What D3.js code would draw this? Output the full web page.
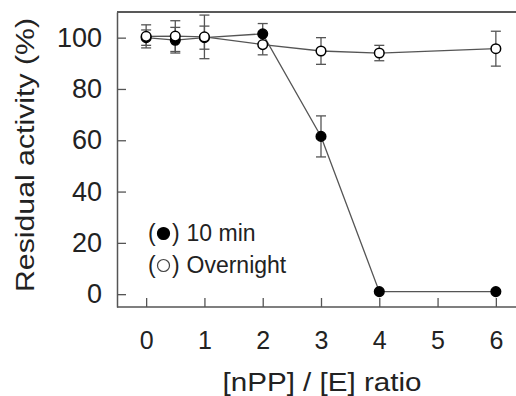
<!DOCTYPE html>
<html>
<head>
<meta charset="utf-8">
<script src="https://cdn.jsdelivr.net/npm/d3@7"></script>
<style>
  body { margin: 0; background: #fff; }
  svg { display: block; font-family: "Liberation Sans", Arial, sans-serif; }
</style>
</head>
<body>
<div id="chart"></div>
<script>
// data
const ratios = [0, 0.5, 1, 2, 3, 4, 6];
const xTicks = [0, 1, 2, 3, 4, 5, 6];
const yTicks = [0, 20, 40, 60, 80, 100];
const tenMin = [100, 99, 100, 101.5, 61.5, 1, 1];
const tenMinErr = [3, 5, 4.5, 4, 8, 0, 0];
const overnight = [100.5, 100.6, 100.3, 97.3, 94.8, 94, 95.7];
const overnightErr = [4.5, 6, 8.5, 4, 5.2, 3, 6.8];

const width = 516, height = 396;
const svg = d3.select("#chart")
    .append("svg")
    .attr("width", width)
    .attr("height", height);

const x = d3.scaleLinear().domain([-0.5, 6.5]).range([117, 525]);
const y = d3.scaleLinear().domain([-5, 110]).range([307, 12]);

const grey = "#555";
const ink = "#222";

// frame top line
svg.append("line")
    .attr("x1", 117).attr("x2", width)
    .attr("y1", 12).attr("y2", 12)
    .style("stroke", ink)
    .style("stroke-width", 1.5);

// axes with ticks pointing inside
const xAxis = svg.append("g")
    .attr("transform", "translate(0,307)")
    .call(d3.axisBottom(x).tickValues(xTicks).tickFormat(d3.format("d"))
        .tickSizeInner(-9).tickSizeOuter(0).tickPadding(24));
const yAxis = svg.append("g")
    .attr("transform", "translate(117,0)")
    .call(d3.axisLeft(y).tickValues(yTicks).tickFormat(d3.format("d"))
        .tickSizeInner(-9).tickSizeOuter(0).tickPadding(15));

[xAxis, yAxis].forEach((g) => {
    g.select(".domain").style("stroke", grey).style("stroke-width", 1.5);
    g.selectAll(".tick line").style("stroke", grey).style("stroke-width", 1.3);
    g.selectAll(".tick text")
        .style("fill", ink)
        .style("font-family", "Liberation Sans, Arial, sans-serif");
});
xAxis.selectAll(".tick text").style("font-size", "25px");
yAxis.selectAll(".tick text").style("font-size", "27px");
xAxis.select(".domain").attr("d", "M117,0H" + width);

// axis titles
svg.append("text")
    .attr("x", 322)
    .attr("y", 391)
    .attr("text-anchor", "middle")
    .attr("textLength", 199)
    .attr("lengthAdjust", "spacingAndGlyphs")
    .style("font-size", "25px")
    .style("fill", ink)
    .text("[nPP] / [E] ratio");
svg.append("text")
    .attr("transform", "translate(34,155) rotate(-90)")
    .attr("text-anchor", "middle")
    .attr("textLength", 274)
    .attr("lengthAdjust", "spacingAndGlyphs")
    .style("font-size", "26px")
    .style("fill", ink)
    .text("Residual activity (%)");

const series = [
    {name: "10 min", values: tenMin, err: tenMinErr, fill: "#000"},
    {name: "Overnight", values: overnight, err: overnightErr, fill: "#fff"}
];

const line = d3.line()
    .x((d) => x(d.r))
    .y((d) => y(d.v));

series.forEach((s) => {
    s.points = ratios.map((r, i) => ({r: r, v: s.values[i], e: s.err[i]}));
});

// lines
series.forEach((s) => {
    svg.append("path")
        .datum(s.points)
        .attr("d", line)
        .style("fill", "none")
        .style("stroke", grey)
        .style("stroke-width", 1.3);
});

// error bars
series.forEach((s) => {
    const eb = svg.append("g")
        .selectAll("g")
        .data(s.points.filter((d) => d.e > 0))
        .enter()
        .append("g")
        .style("stroke", grey)
        .style("stroke-width", 1.3);
    eb.append("line")
        .attr("x1", (d) => x(d.r)).attr("x2", (d) => x(d.r))
        .attr("y1", (d) => y(d.v - d.e)).attr("y2", (d) => y(d.v + d.e));
    eb.append("line")
        .attr("x1", (d) => x(d.r) - 5).attr("x2", (d) => x(d.r) + 5)
        .attr("y1", (d) => y(d.v + d.e)).attr("y2", (d) => y(d.v + d.e));
    eb.append("line")
        .attr("x1", (d) => x(d.r) - 5).attr("x2", (d) => x(d.r) + 5)
        .attr("y1", (d) => y(d.v - d.e)).attr("y2", (d) => y(d.v - d.e));
});

// markers
series.forEach((s) => {
    svg.append("g")
        .selectAll("circle")
        .data(s.points)
        .enter()
        .append("circle")
        .attr("cx", (d) => x(d.r))
        .attr("cy", (d) => y(d.v))
        .attr("r", 4.8)
        .style("fill", s.fill)
        .style("stroke", "#000")
        .style("stroke-width", 1.5);
});

// legend
const legend = svg.append("g");
series.forEach((s, i) => {
    const row = legend.append("g")
        .attr("transform", "translate(148," + (241 + i * 32) + ")");
    row.append("text")
        .attr("x", 0).attr("y", 0)
        .style("font-size", "23px")
        .style("fill", ink)
        .text("(");
    row.append("circle")
        .attr("cx", 15.5).attr("cy", -7.5)
        .attr("r", 6)
        .style("fill", s.fill)
        .style("stroke", i === 0 ? "#000" : "#444")
        .style("stroke-width", 1.2);
    row.append("text")
        .attr("x", 24).attr("y", 0)
        .style("font-size", "23px")
        .style("fill", ink)
        .text(")");
    row.append("text")
        .attr("x", 38.5).attr("y", 0)
        .style("font-size", "23px")
        .style("fill", ink)
        .text(s.name);
});
</script>
</body>
</html>
